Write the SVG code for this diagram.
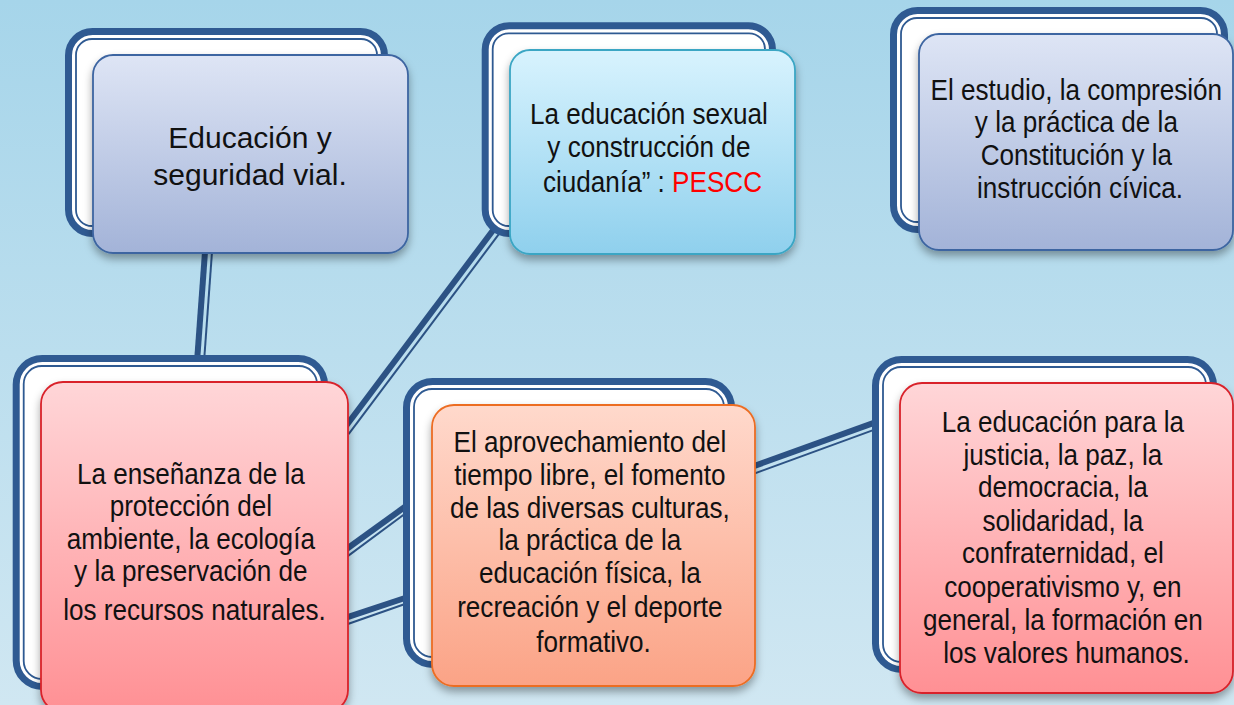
<svg xmlns="http://www.w3.org/2000/svg" width="1234" height="705" viewBox="0 0 1234 705">
<defs>
  <linearGradient id="bg" x1="0" y1="0" x2="0" y2="1">
    <stop offset="0" stop-color="#a6d5ea"/>
    <stop offset="1" stop-color="#d0e7f2"/>
  </linearGradient>
  <linearGradient id="gBlue" x1="0" y1="0" x2="0" y2="1">
    <stop offset="0" stop-color="#dee5f5"/>
    <stop offset="1" stop-color="#a3b3d8"/>
  </linearGradient>
  <linearGradient id="gCyan" x1="0" y1="0" x2="0" y2="1">
    <stop offset="0" stop-color="#d8f3fe"/>
    <stop offset="1" stop-color="#8fd0ed"/>
  </linearGradient>
  <linearGradient id="gRed" x1="0" y1="0" x2="0" y2="1">
    <stop offset="0" stop-color="#ffd6d8"/>
    <stop offset="1" stop-color="#ff9094"/>
  </linearGradient>
  <linearGradient id="gOrange" x1="0" y1="0" x2="0" y2="1">
    <stop offset="0" stop-color="#ffd9cc"/>
    <stop offset="1" stop-color="#fba386"/>
  </linearGradient>
  <filter id="sh" x="-10%" y="-10%" width="125%" height="130%">
    <feDropShadow dx="0" dy="5" stdDeviation="4" flood-color="#000" flood-opacity="0.35"/>
  </filter>
</defs>
<style>
  .outer { fill: #ffffff; stroke: #2f5a92; stroke-width: 7; }
  .inner { fill: #ffffff; stroke: #2f5a92; stroke-width: 1.8; }
  .thick { stroke: #2c5284; stroke-width: 6; stroke-linecap: butt; }
  .thin { stroke: #2c5284; stroke-width: 2; stroke-linecap: butt; }
  .box { filter: url(#sh); stroke-width: 1.8; }
  .blue { fill: url(#gBlue); stroke: #3d65a1; }
  .cyan { fill: url(#gCyan); stroke: #3aa6c4; }
  .red { fill: url(#gRed); stroke: #d9222b; }
  .orange { fill: url(#gOrange); stroke: #ec6d24; }
  text { font-family: "Liberation Sans", Arial, sans-serif; font-size: 30px; fill: #111111; text-anchor: middle; }
  .hl { fill: #ff0000; }
</style>
<rect x="0" y="0" width="1234" height="705" fill="url(#bg)"/>

<g id="connectors">
  <line class="thick" x1="205.5" y1="245" x2="197" y2="362"/>
  <line class="thin" x1="212.5" y1="245" x2="204" y2="362"/>
  <line class="thick" x1="343" y1="430" x2="497" y2="225"/>
  <line class="thin" x1="348.6" y1="434.2" x2="502.6" y2="229.2"/>
  <line class="thick" x1="340" y1="553.8" x2="405" y2="506.8"/>
  <line class="thin" x1="340" y1="561.9" x2="405" y2="513.8"/>
  <line class="thick" x1="340" y1="619.7" x2="405" y2="598"/>
  <line class="thin" x1="340" y1="626.8" x2="405" y2="604"/>
  <line class="thick" x1="745" y1="469.3" x2="878" y2="421.4"/>
  <line class="thin" x1="745" y1="477" x2="878" y2="428.4"/>
</g>

<g id="node-seguridad-vial">
  <rect class="outer" x="68.5" y="31.5" width="316" height="202" rx="24"/>
  <rect class="inner" x="76" y="39" width="301" height="187" rx="16"/>
  <rect class="box blue" x="93" y="55" width="315" height="198" rx="20"/>
  <text x="250" y="148">Educación y</text>
  <text x="250" y="185">seguridad vial.</text>
</g>

<g id="node-pescc">
  <rect class="outer" x="485.2" y="25.8" width="287.3" height="207.7" rx="24"/>
  <rect class="inner" x="492.7" y="33.3" width="272.3" height="192.7" rx="16"/>
  <rect class="box cyan" x="510" y="50" width="285" height="204" rx="20"/>
  <text transform="matrix(0.87 0 0 1 652.5 0)">
    <tspan x="0" y="124">La educación sexual</tspan>
    <tspan x="0" y="157">y construcción de</tspan>
    <tspan x="0" y="192">ciudanía” : <tspan class="hl">PESCC</tspan></tspan>
  </text>
</g>

<g id="node-constitucion">
  <rect class="outer" x="893.5" y="10.5" width="331" height="219" rx="24"/>
  <rect class="inner" x="901" y="18" width="316" height="204" rx="16"/>
  <rect class="box blue" x="919" y="34" width="314" height="216" rx="20"/>
  <text transform="matrix(0.87 0 0 1 1080 0)">
    <tspan x="0" y="100">El estudio, la compresión</tspan>
    <tspan x="0" y="132">y la práctica de la</tspan>
    <tspan x="0" y="165">Constitución y la</tspan>
    <tspan x="0" y="198">instrucción cívica.</tspan>
  </text>
</g>

<g id="node-ambiente">
  <rect class="outer" x="16.2" y="358.5" width="308.3" height="328" rx="26"/>
  <rect class="inner" x="23.7" y="366" width="293.3" height="313" rx="18"/>
  <rect class="box red" x="41" y="382" width="307" height="330" rx="22"/>
  <text transform="matrix(0.87 0 0 1 194.5 0)">
    <tspan x="0" y="484">La enseñanza de la</tspan>
    <tspan x="0" y="516">protección del</tspan>
    <tspan x="0" y="549">ambiente, la ecología</tspan>
    <tspan x="0" y="581">y la preservación de</tspan>
    <tspan x="0" y="620">los recursos naturales.</tspan>
  </text>
</g>

<g id="node-tiempo-libre">
  <rect class="outer" x="406.5" y="381.5" width="325" height="283" rx="26"/>
  <rect class="inner" x="414" y="389" width="310" height="268" rx="18"/>
  <rect class="box orange" x="432" y="405" width="323" height="281" rx="22"/>
  <text transform="matrix(0.87 0 0 1 593.5 0)">
    <tspan x="0" y="452">El aprovechamiento del</tspan>
    <tspan x="0" y="485">tiempo libre, el fomento</tspan>
    <tspan x="0" y="518">de las diversas culturas,</tspan>
    <tspan x="0" y="550">la práctica de la</tspan>
    <tspan x="0" y="583">educación física, la</tspan>
    <tspan x="0" y="617">recreación y el deporte</tspan>
    <tspan x="0" y="652">formativo.</tspan>
  </text>
</g>

<g id="node-valores">
  <rect class="outer" x="875.5" y="359.5" width="338" height="310" rx="26"/>
  <rect class="inner" x="883" y="367" width="323" height="295" rx="18"/>
  <rect class="box red" x="900" y="383" width="333" height="310" rx="22"/>
  <text transform="matrix(0.87 0 0 1 1066.5 0)">
    <tspan x="0" y="432">La educación para la</tspan>
    <tspan x="0" y="465">justicia, la paz, la</tspan>
    <tspan x="0" y="497">democracia, la</tspan>
    <tspan x="0" y="531">solidaridad, la</tspan>
    <tspan x="0" y="563">confraternidad, el</tspan>
    <tspan x="0" y="597">cooperativismo y, en</tspan>
    <tspan x="0" y="630">general, la formación en</tspan>
    <tspan x="0" y="663">los valores humanos.</tspan>
  </text>
</g>
</svg>
